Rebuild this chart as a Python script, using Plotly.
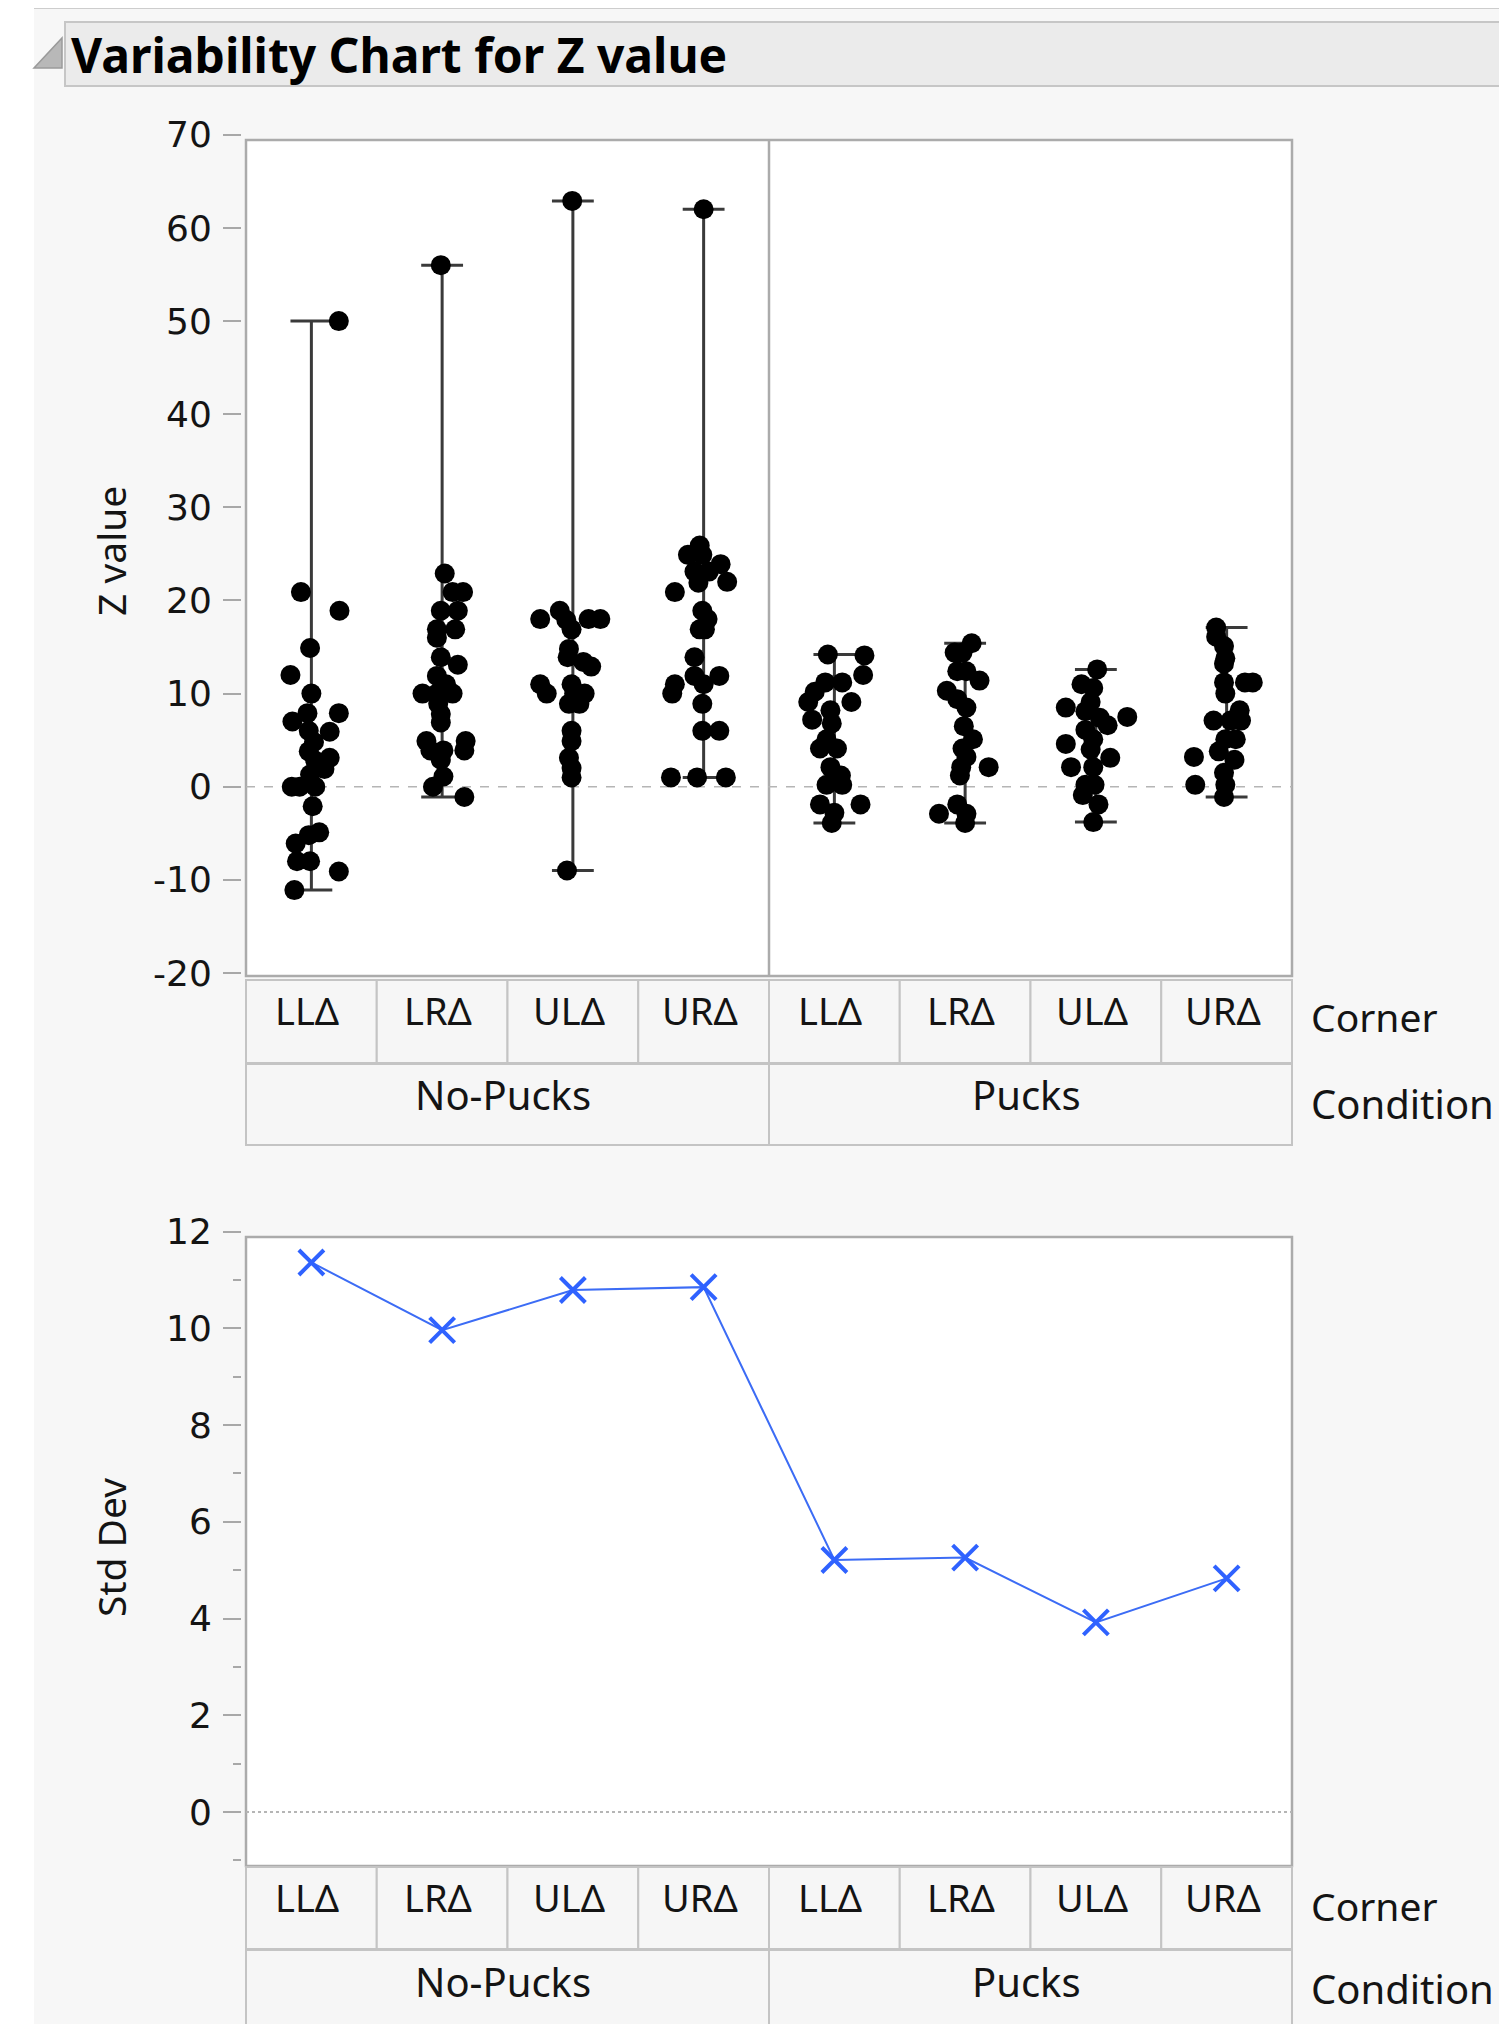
import plotly.graph_objects as go

PAGE_W, PAGE_H = 1507, 2032
BODY = 8  # default body margin of the html page
W, H = PAGE_W - 2 * BODY, PAGE_H - 2 * BODY

conditions = ["No-Pucks", "Pucks"]
corners = ["LLΔ", "LRΔ", "ULΔ", "URΔ"]

# Z values per group and horizontal jitter (fraction of a cell)
z_np_ll = [50.0, 20.9, 18.9, 14.9, 12.0, 10.0, 7.9, 7.9, 7.0, 6.0, 5.9, 4.8, 3.8, 3.1, 2.8, 1.9, 1.3,
           0.0, 0.0, 0.0, -2.1, -4.9, -5.2, -6.1, -8.0, -8.0, -9.1, -11.1]
j_np_ll = [0.21, -0.08, 0.215, -0.01, -0.16, 0.0, -0.03, 0.21, -0.145, -0.02, 0.14, 0.02, -0.02, 0.14, 0.03,
           0.10, -0.01, -0.15, -0.09, 0.03, 0.01, 0.06, -0.02, -0.12, -0.11, -0.01, 0.21, -0.13]

z_np_lr = [56.0, 22.9, 20.9, 20.9, 18.9, 18.9, 16.9, 16.9, 16.0, 13.9, 13.1, 11.9, 11.0, 10.0, 10.0, 10.0,
           8.9, 7.8, 6.9, 4.9, 4.9, 3.9, 3.9, 3.9, 2.9, 1.1, 0.0, -1.1]
j_np_lr = [-0.01, 0.02, 0.08, 0.16, -0.01, 0.12, -0.04, 0.10, -0.04, -0.01, 0.12, -0.04, 0.03, -0.15, -0.04,
           0.08, -0.03, -0.01, -0.01, -0.12, 0.18, -0.09, 0.01, 0.17, -0.01, 0.01, -0.07, 0.17]

z_np_ul = [62.9, 18.0, 18.9, 17.9, 18.0, 18.0, 16.9, 14.8, 13.9, 13.4, 12.9, 11.0, 11.0, 10.0, 10.0, 10.0,
           8.9, 8.9, 6.0, 4.9, 3.1, 2.0, 1.0, -9.0]
j_np_ul = [-0.005, -0.25, -0.10, -0.05, 0.12, 0.21, -0.01, -0.03, -0.04, 0.08, 0.14, -0.25, -0.01, -0.20,
           0.01, 0.09, -0.03, 0.05, -0.01, -0.01, -0.03, -0.01, -0.01, -0.045]

z_np_ur = [62.0, 25.9, 24.9, 24.9, 23.9, 23.1, 23.1, 22.0, 21.9, 20.9, 18.9, 18.0, 16.9, 16.9, 13.9, 11.9,
           11.9, 11.0, 11.0, 10.0, 8.9, 6.0, 6.0, 1.0, 1.0, 1.0]
j_np_ur = [0.0, -0.03, -0.12, -0.01, 0.13, -0.07, 0.04, 0.18, -0.04, -0.22, -0.01, 0.03, -0.03, 0.01, -0.07,
           -0.07, 0.12, -0.22, 0.0, -0.24, -0.01, -0.01, 0.12, -0.25, -0.05, 0.17]

z_p_ll = [14.2, 14.1, 12.0, 11.2, 11.2, 10.2, 9.1, 9.1, 8.2, 7.2, 6.8, 5.1, 4.1, 4.1, 2.1, 1.2, 0.2, 0.2,
          -1.9, -1.9, -2.8, -3.9]
j_p_ll = [-0.05, 0.23, 0.22, 0.06, -0.07, -0.15, -0.20, 0.13, -0.03, -0.17, -0.02, -0.06, -0.11, 0.02,
          -0.03, 0.05, -0.06, 0.06, -0.11, 0.20, 0.0, -0.02]

z_p_lr = [15.4, 14.4, 14.4, 12.4, 12.4, 11.4, 10.3, 9.4, 8.5, 6.5, 5.1, 4.1, 3.2, 2.1, 2.1, 1.2, -1.9,
          -2.9, -2.9, -3.9]
j_p_lr = [0.05, -0.08, -0.02, -0.06, 0.01, 0.11, -0.14, -0.06, 0.01, -0.01, 0.06, -0.02, 0.01, -0.03,
          0.18, -0.04, -0.06, -0.20, 0.01, 0.0]

z_p_ul = [12.6, 11.0, 10.6, 8.5, 9.1, 8.1, 7.4, 7.5, 6.6, 6.1, 5.1, 4.6, 4.0, 3.1, 2.1, 2.1, 0.2, 0.2,
          -0.9, -1.9, -3.8]
j_p_ul = [0.01, -0.11, -0.02, -0.23, -0.04, -0.08, 0.03, 0.24, 0.09, -0.08, -0.02, -0.23, -0.04, 0.11,
          -0.19, -0.02, -0.08, -0.01, -0.10, 0.02, -0.02]

z_p_ur = [17.1, 16.1, 15.1, 13.8, 13.2, 11.2, 11.2, 11.2, 10.0, 8.2, 7.1, 7.1, 7.1, 5.1, 5.1, 3.8, 2.9,
          3.2, 1.5, 0.2, 0.2, -1.1]
j_p_ur = [-0.08, -0.08, -0.02, -0.01, -0.02, -0.02, 0.14, 0.20, -0.01, 0.10, -0.10, 0.03, 0.11, -0.01,
          0.07, -0.06, 0.06, -0.25, -0.02, -0.01, -0.24, -0.02]

# Std dev per cell
std_dev = [11.36, 9.96, 10.79, 10.85, 5.21, 5.26, 3.92, 4.83]

z_groups = [z_np_ll, z_np_lr, z_np_ul, z_np_ur, z_p_ll, z_p_lr, z_p_ul, z_p_ur]
j_groups = [j_np_ll, j_np_lr, j_np_ul, j_np_ur, j_p_ll, j_p_lr, j_p_ul, j_p_ur]

z_ticks = [-20, -10, 0, 10, 20, 30, 40, 50, 60, 70]
z_ticktext = ["-20", "-10", "0", "10", "20", "30", "40", "50", "60", "70"]
sd_ticks = [0, 2, 4, 6, 8, 10, 12]
sd_ticktext = ["0", "2", "4", "6", "8", "10", "12"]

# ---------------- geometry helpers (page pixel -> paper) ----------------
def px(x):
    return (x - BODY) / W

def py(y):
    return 1 - (y - BODY) / H

FRAME_L, FRAME_R = 246, 1292
TOP_T, TOP_B = 140, 976
BOT_T, BOT_B = 1237, 1866
CELL_W = (FRAME_R - FRAME_L) / 8

LABEL_FONT = "Noto Sans"
TICK_FONT = "DejaVu Sans"
TXT = "#141414"
GRAY = "#ABABAB"

fig = go.Figure()

# ---------------- top: points + range bars ----------------
n_cells = len(conditions) * len(corners)
xs, ys = [], []
bx, by = [], []
for i, (zs, js) in enumerate(zip(z_groups, j_groups)):
    c = i + 1
    xs += [c + j for j in js]
    ys += zs
    lo, hi = min(zs), max(zs)
    bx += [c, c, None, c - 0.16, c + 0.16, None, c - 0.16, c + 0.16, None]
    by += [lo, hi, None, lo, lo, None, hi, hi, None]

fig.add_trace(go.Scatter(x=bx, y=by, mode="lines", line=dict(color="#3a3a3a", width=3),
                         xaxis="x", yaxis="y", showlegend=False, hoverinfo="skip"))
fig.add_trace(go.Scatter(x=xs, y=ys, mode="markers",
                         marker=dict(color="black", size=20, line=dict(width=0)),
                         xaxis="x", yaxis="y", showlegend=False))

# ---------------- bottom: std dev ----------------
fig.add_trace(go.Scatter(x=list(range(1, n_cells + 1)), y=std_dev, mode="lines+markers",
                         line=dict(color="#3c6cf5", width=2),
                         marker=dict(symbol="x-thin", size=25, line=dict(color="#2f62ff", width=4)),
                         xaxis="x2", yaxis="y2", showlegend=False))

# axis domains computed from pixel positions
top_rng = [-20.3, 70.02]
top_px_per = (973.0 - 134.8) / 90.0
top_dom = [py(134.8 + (70 - top_rng[0]) * top_px_per), py(134.8 + (70 - top_rng[1]) * top_px_per)]

bot_rng = [-1.1, 12.02]
bot_px_per = (1812.0 - 1231.5) / 12.0
bot_dom = [py(1812.0 - bot_rng[0] * bot_px_per), py(1812.0 - bot_rng[1] * bot_px_per)]

xdom = [px(FRAME_L), px(FRAME_R)]
tick_pos = px(241)

axis_common = dict(showgrid=False, zeroline=False, showline=False, ticks="outside", automargin=False,
                   tickcolor="#A8A8A8", tickwidth=2,
                   tickfont=dict(family=TICK_FONT, size=36, color=TXT))

fig.update_layout(
    width=W, height=H,
    margin=dict(l=0, r=0, t=0, b=0, pad=0, autoexpand=False),
    paper_bgcolor="#F7F7F7",
    plot_bgcolor="rgba(0,0,0,0)",
    showlegend=False,
    xaxis=dict(domain=xdom, range=[0.5, 8.5], visible=False, anchor="y", automargin=False),
    xaxis2=dict(domain=xdom, range=[0.5, 8.5], visible=False, anchor="y2", automargin=False),
    yaxis=dict(domain=top_dom, range=top_rng, anchor="free", position=tick_pos,
               tickvals=z_ticks, ticktext=z_ticktext, ticklen=18, ticklabelstandoff=4, **axis_common),
    yaxis2=dict(domain=bot_dom, range=bot_rng, anchor="free", position=tick_pos,
                tickvals=sd_ticks, ticktext=sd_ticktext, ticklen=18, ticklabelstandoff=4,
                minor=dict(dtick=1, tick0=1, ticks="outside", ticklen=8, tickcolor="#A8A8A8", tickwidth=2),
                **axis_common),
)

shapes = []
annotations = []

def rect(x0, y0, x1, y1, fill, line, lw, layer="below"):
    shapes.append(dict(type="rect", xref="paper", yref="paper", x0=px(x0), x1=px(x1), y0=py(y1), y1=py(y0),
                       fillcolor=fill, line=dict(color=line, width=lw), layer=layer))

# white strip at far left + outer panel top line + title bar
rect(-20, -20, 34, 2060, "white", "rgba(0,0,0,0)", 0)
rect(-20, -20, 1530, 5, "white", "rgba(0,0,0,0)", 0)
shapes.append(dict(type="line", xref="paper", yref="paper", x0=px(34), x1=1.01, y0=py(7), y1=py(7),
                   line=dict(color="#CDCDCD", width=4), layer="below"))
rect(65, 22, 1540, 86, "#EBEBEB", "#C6C6C6", 2)
shapes.append(dict(type="path", xref="paper", yref="paper",
                   path=f"M {px(62)} {py(38)} L {px(62)} {py(68)} L {px(34)} {py(68)} Z",
                   fillcolor="#B8B8B8", line=dict(color="#9A9A9A", width=1.5), layer="below"))
annotations.append(dict(xref="paper", yref="paper", x=px(69), y=py(54), xanchor="left", yanchor="middle",
                        text="<b>Variability Chart for Z value</b>", showarrow=False,
                        font=dict(family=LABEL_FONT, size=48, color="black")))

# plot frames
rect(FRAME_L, TOP_T, FRAME_R, TOP_B, "white", GRAY, 2.5)
rect(FRAME_L, BOT_T, FRAME_R, BOT_B, "white", GRAY, 2.5)

# divider between conditions in top plot
shapes.append(dict(type="line", xref="x", yref="paper", x0=4.5, x1=4.5, y0=py(TOP_B), y1=py(TOP_T),
                   line=dict(color=GRAY, width=2.5), layer="below"))

# zero reference lines
shapes.append(dict(type="line", xref="x", yref="y", x0=0.5, x1=8.5, y0=0, y1=0,
                   line=dict(color="#B5B5B5", width=1.5, dash="dash"), layer="below"))
shapes.append(dict(type="line", xref="x2", yref="y2", x0=0.5, x1=8.5, y0=0, y1=0,
                   line=dict(color="#B5B5B5", width=2, dash="dot"), layer="below"))

# category header cells
def header(row1_top, row1_bot, row2_top, row2_bot, lab1_y, lab2_y, side1_y, side2_y):
    for i in range(n_cells):
        x0 = FRAME_L + i * CELL_W
        rect(x0, row1_top, x0 + CELL_W, row1_bot, "#F6F6F6", "#C4C4C4", 2)
        annotations.append(dict(xref="paper", yref="paper", x=px(x0 + CELL_W / 2 - 4), y=py(lab1_y),
                                xanchor="center", yanchor="middle", text=corners[i % 4], showarrow=False,
                                font=dict(family=LABEL_FONT, size=38, color=TXT)))
    for k, cond in enumerate(conditions):
        x0 = FRAME_L + k * 4 * CELL_W
        rect(x0, row2_top, x0 + 4 * CELL_W, row2_bot, "#F6F6F6", "#C4C4C4", 2)
        annotations.append(dict(xref="paper", yref="paper", x=px(x0 + 2 * CELL_W - 4), y=py(lab2_y),
                                xanchor="center", yanchor="middle", text=cond, showarrow=False,
                                font=dict(family=LABEL_FONT, size=40, color=TXT)))
    annotations.append(dict(xref="paper", yref="paper", x=px(1309), y=py(side1_y), xanchor="left",
                            yanchor="middle", text="Corner", showarrow=False,
                            font=dict(family=LABEL_FONT, size=39, color=TXT)))
    annotations.append(dict(xref="paper", yref="paper", x=px(1309), y=py(side2_y), xanchor="left",
                            yanchor="middle", text="Condition", showarrow=False,
                            font=dict(family=LABEL_FONT, size=40, color=TXT)))

header(980, 1063, 1064, 1145, 1010, 1094, 1016, 1103)
header(1867, 1949, 1950, 2045, 1897, 1981, 1905, 1988)

# axis titles
annotations.append(dict(xref="paper", yref="paper", x=px(110), y=py(551), textangle=-90,
                        xanchor="center", yanchor="middle", text="Z value", showarrow=False,
                        font=dict(family=LABEL_FONT, size=39, color=TXT)))
annotations.append(dict(xref="paper", yref="paper", x=px(110), y=py(1548), textangle=-90,
                        xanchor="center", yanchor="middle", text="Std Dev", showarrow=False,
                        font=dict(family=LABEL_FONT, size=39, color=TXT)))

fig.update_layout(shapes=shapes, annotations=annotations)
fig.write_html("out.html")
